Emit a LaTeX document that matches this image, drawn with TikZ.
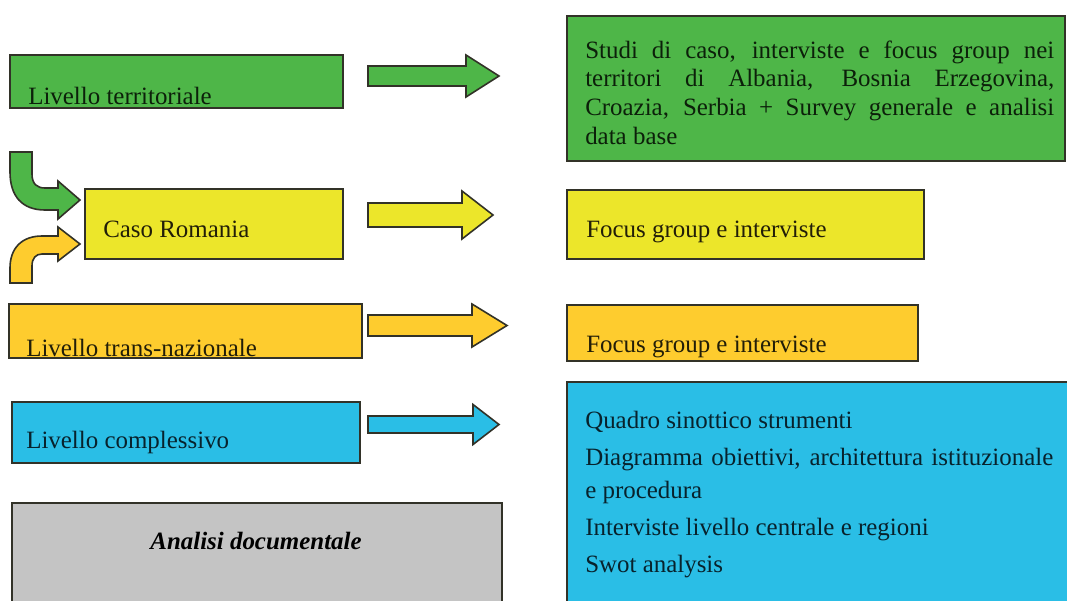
\documentclass[tikz,border=0pt]{standalone}
\usepackage{fontspec}
\setmainfont{Liberation Serif}
\usetikzlibrary{fit}
\definecolor{gfill}{RGB}{78,182,72}
\definecolor{yfill}{RGB}{236,230,42}
\definecolor{ofill}{RGB}{254,204,46}
\definecolor{bfill}{RGB}{42,190,230}
\definecolor{greyfill}{RGB}{196,196,196}
\definecolor{edge}{RGB}{50,50,40}
\definecolor{txtg}{RGB}{12,32,10}
\definecolor{txty}{RGB}{34,30,8}
\definecolor{txtb}{RGB}{8,34,44}
\newcommand\blockarr[7]{%
  \filldraw[arrowshape, fill=#1] (#2,#5-#6) -- (#3,#5-#6) -- (#3,#5-#7) -- (#4,#5)
    -- (#3,#5+#7) -- (#3,#5+#6) -- (#2,#5+#6) -- cycle;}
\newcommand\txtsize{\fontsize{18.7}{21.5}\selectfont}
\begin{document}
\begin{tikzpicture}[x=0.75pt,y=-0.75pt,
  box/.style={draw=edge, line width=1.5pt, inner sep=0pt},
  arrowshape/.style={draw=edge, line width=1.2pt, line join=miter},
  lbl/.style={inner sep=0pt, anchor=base west, font=\txtsize},
  ]
\useasboundingbox (0,0) rectangle (1067,600);
\clip (0,0) rectangle (1067,600);
% left boxes
\node[box, fill=gfill, fit={(10,55) (343,108)}] (g1) {};
\node[box, fill=yfill, fit={(85,189) (343,259)}] (y1) {};
\node[box, fill=ofill, fit={(9,304) (362,358)}] (o1) {};
\node[box, fill=bfill, fit={(12,402) (360,463)}] (b1) {};
\node[box, fill=greyfill, fit={(12,503) (502,620)}] (d1) {};
% right boxes
\node[box, fill=gfill, fit={(567,16) (1065,161)}] (g2) {};
\node[box, fill=yfill, fit={(567,190) (924,259)}] (y2) {};
\node[box, fill=ofill, fit={(567,305) (918,361)}] (o2) {};
\node[box, fill=bfill, fit={(567,382) (1070,620)}] (b2) {};
% left texts
\begin{scope}
\clip (g1.south west) rectangle (g1.north east);
\node[lbl, text=txtg] (g1t) at (28,104) {Livello territoriale};
\end{scope}
\node[lbl, text=txty] (y1t) at (103,237) {Caso Romania};
\begin{scope}
\clip (o1.south west) rectangle (o1.north east);
\node[lbl, text=txty] (o1t) at (26,356) {Livello trans-nazionale};
\end{scope}
\node[lbl, text=txtb] (b1t) at (26,448) {Livello complessivo};
\node[lbl, anchor=base, text=black, font=\txtsize\bfseries\itshape] (d1t) at (256,549) {Analisi documentale};
% right texts
\node[lbl, text=txtg] (g2t) at (585,58) {\parbox[t]{351.75pt}{\txtsize
  \makebox[351.75pt][s]{Studi di caso, interviste e focus group nei}\\
  \makebox[351.75pt][s]{territori di Albania, Bosnia Erzegovina,}\\
  \makebox[351.75pt][s]{Croazia, Serbia + Survey generale e analisi}\\
  data base}};
\node[lbl, text=txty] (y2t) at (586,237) {Focus group e interviste};
\begin{scope}
\clip (o2.south west) rectangle (o2.north east);
\node[lbl, text=txty] (o2t) at (586,352) {Focus group e interviste};
\end{scope}
\node[lbl, text=txtb] (b2a) at (585,428) {Quadro sinottico strumenti};
\node[lbl, text=txtb] (b2b) at (585,465) {\makebox[351pt][s]{Diagramma obiettivi, architettura istituzionale}};
\node[lbl, text=txtb] (b2c) at (585,498) {e procedura};
\node[lbl, text=txtb] (b2d) at (585,535) {Interviste livello centrale e regioni};
\node[lbl, text=txtb] (b2e) at (585,572) {Swot analysis};
% block arrows
\blockarr{gfill}{368}{466}{499}{76}{10}{21}
\blockarr{yfill}{368}{462}{493}{215}{12}{24}
\blockarr{ofill}{368}{472}{507}{325.5}{10.5}{21.5}
\blockarr{bfill}{368}{473}{499}{424.5}{8.5}{20}
% bent arrows
\filldraw[arrowshape, fill=gfill] (10,152) -- (10,172) .. controls (10,196) and (22,210) .. (45,210)
  -- (58,210) -- (58,219) -- (80,200) -- (58,181) -- (58,188) -- (45,188)
  .. controls (37,188) and (32,184) .. (32,174) -- (32,152) -- cycle;
\filldraw[arrowshape, fill=ofill] (10,283) -- (10,268) .. controls (10,248) and (22,236) .. (42,236)
  -- (58,236) -- (58,227) -- (80,244) -- (58,261) -- (58,254) -- (42,254)
  .. controls (36,254) and (32,258) .. (32,266) -- (32,283) -- cycle;
\end{tikzpicture}
\end{document}
